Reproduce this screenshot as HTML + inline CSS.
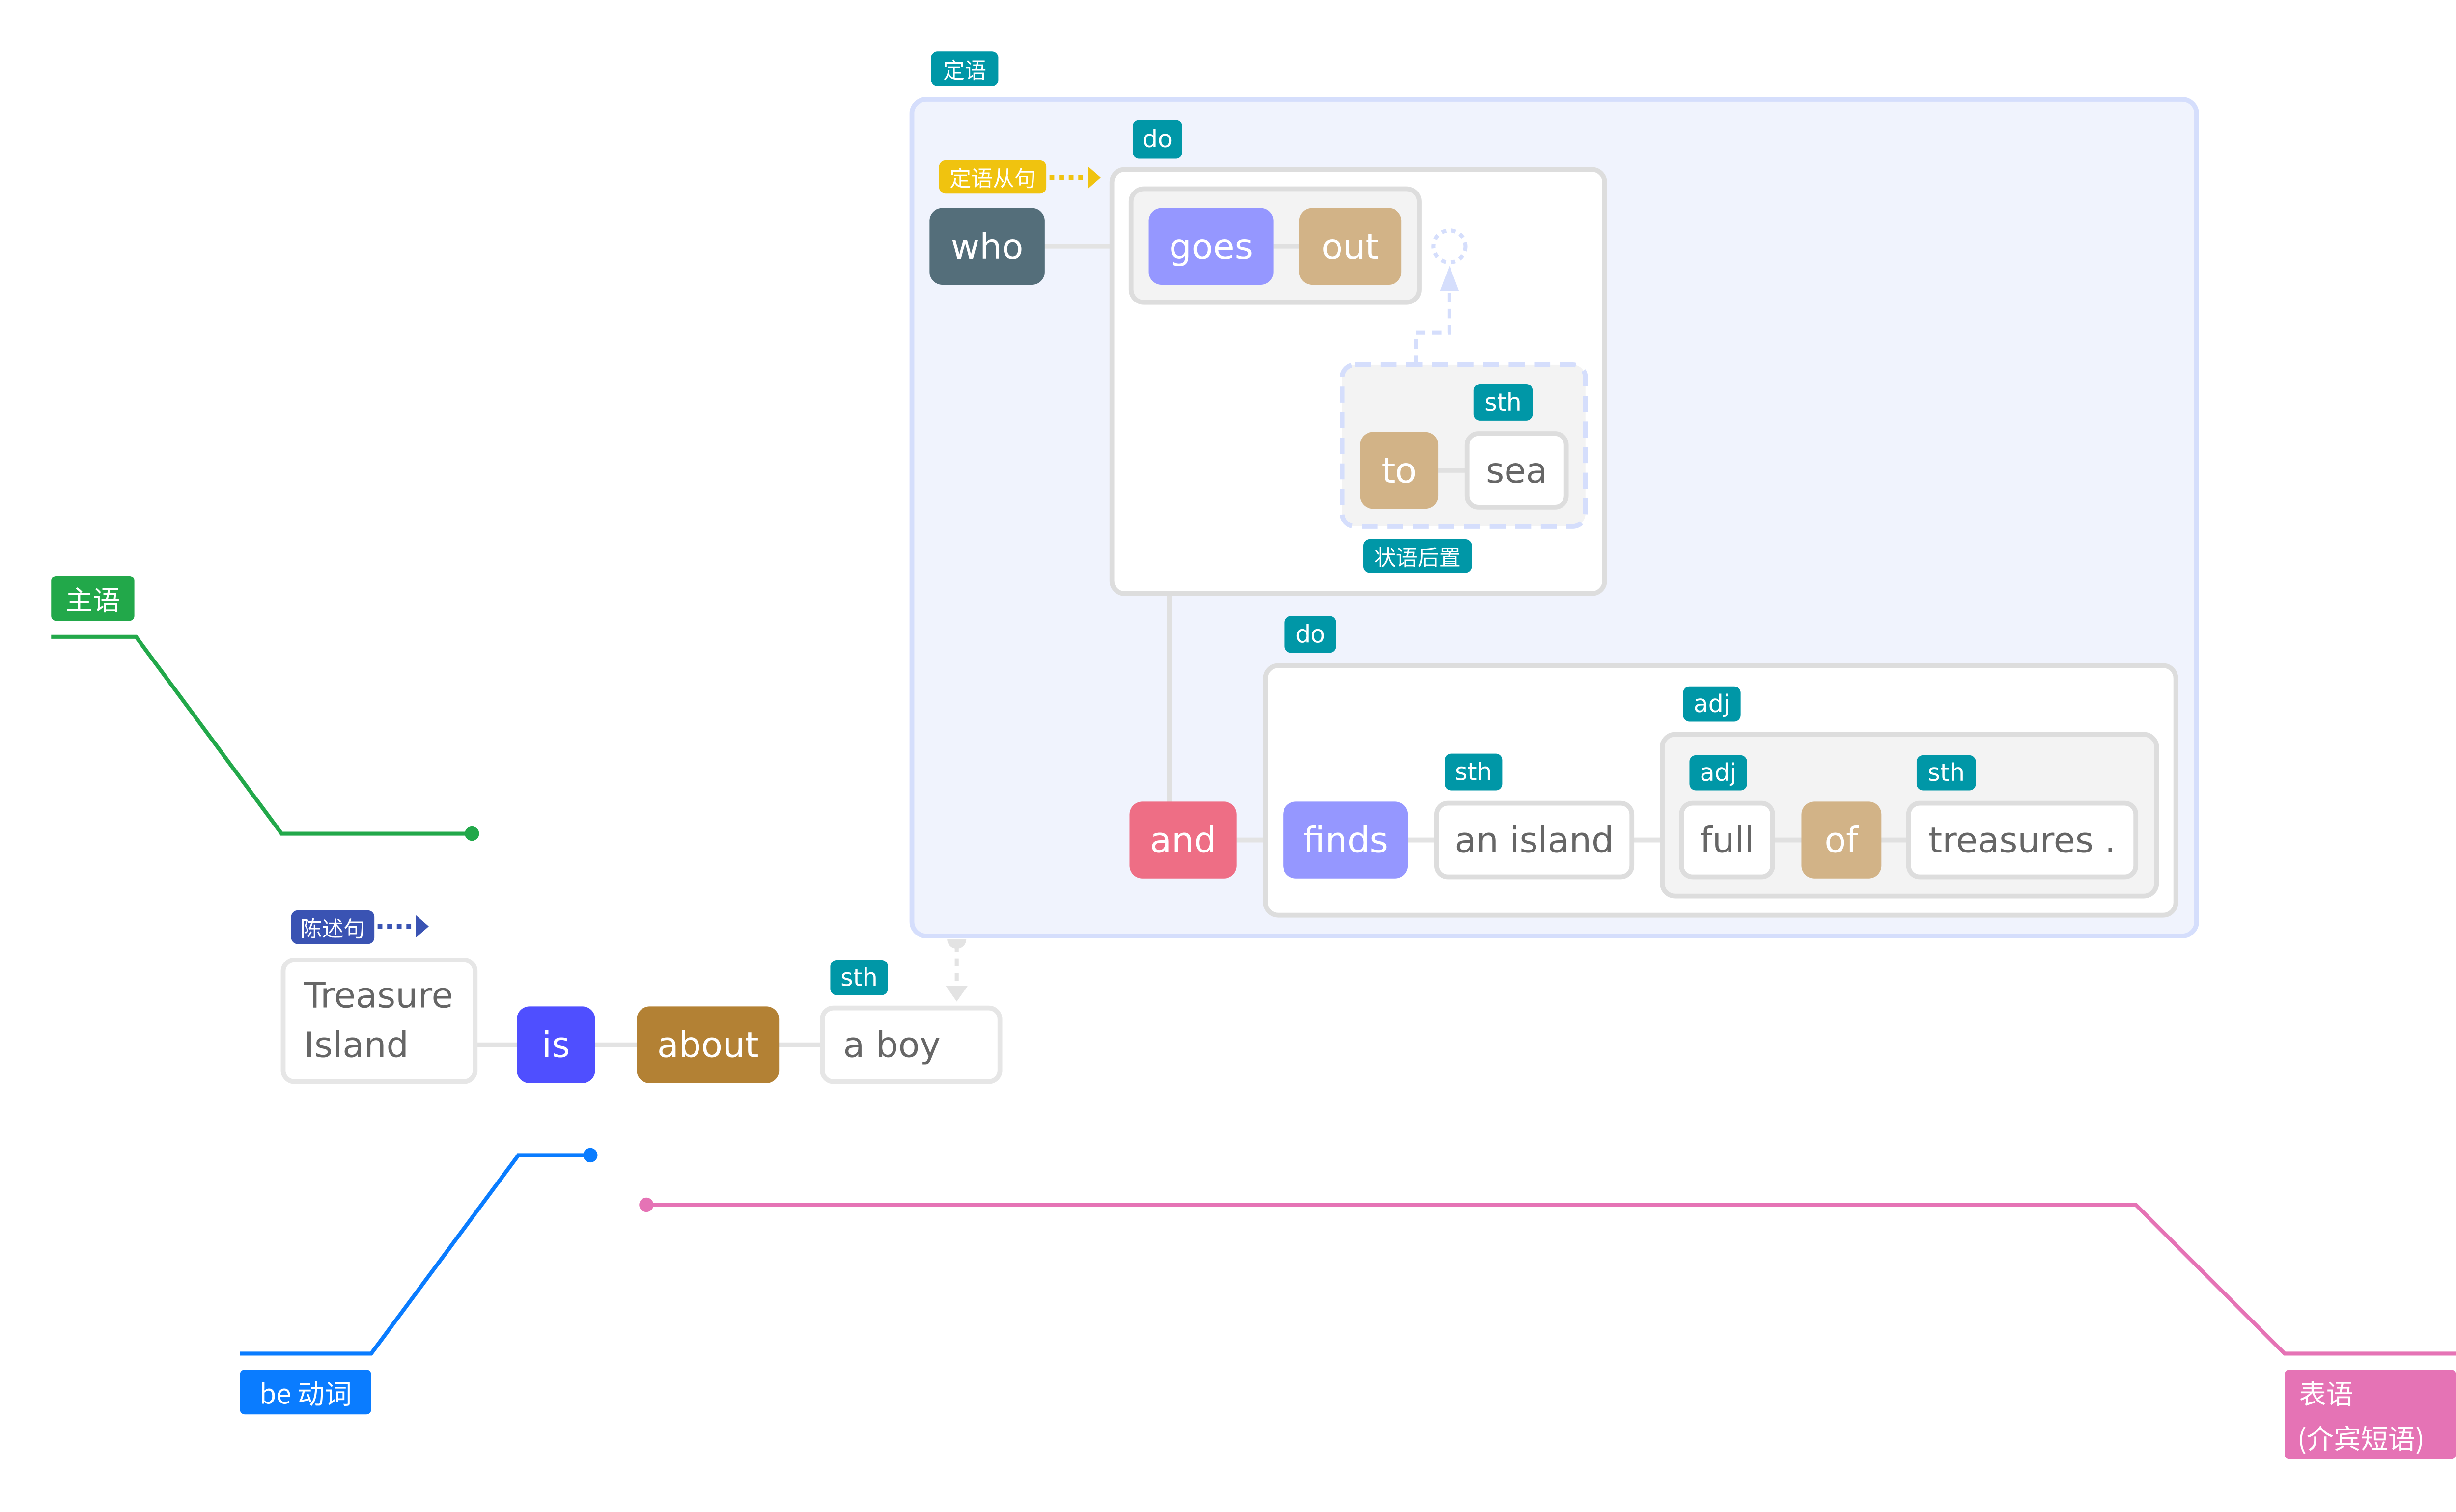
<!DOCTYPE html>
<html><head><meta charset="utf-8"><style>
html,body{margin:0;padding:0;background:#fff;}
svg{display:block;}
text{font-family:"DejaVu Sans","Liberation Sans","Noto Sans CJK SC",sans-serif;}
.w{font-size:22px;fill:#fff;text-anchor:middle;dominant-baseline:central;}
.g{font-size:22px;fill:#666;text-anchor:middle;dominant-baseline:central;}
.t{font-size:15px;fill:#fff;text-anchor:middle;dominant-baseline:central;font-family:"DejaVu Sans","Noto Sans CJK SC",sans-serif;}
.tc{font-size:13.5px;fill:#fff;text-anchor:middle;dominant-baseline:central;font-family:"Noto Sans CJK SC",sans-serif;}
</style></head><body>
<svg width="5081" height="3079" viewBox="0 0 1560 945" preserveAspectRatio="none" xmlns="http://www.w3.org/2000/svg">
<rect x="570" y="62" width="803" height="523" rx="9" fill="#f0f3fd" stroke="#d5defc" stroke-width="3"/>
<rect x="582" y="32" width="42" height="22" rx="4" fill="#0097a7"/><text class="tc" x="603" y="43">定语</text>

<line x1="653" y1="154" x2="695" y2="154" stroke="#e3e3e3" stroke-width="3"/>
<line x1="731" y1="371" x2="731" y2="525" stroke="#e0e0e0" stroke-width="3"/>
<line x1="773" y1="525" x2="802" y2="525" stroke="#e3e3e3" stroke-width="3"/>
<line x1="297" y1="653" x2="514" y2="653" stroke="#e3e3e3" stroke-width="3"/>

<rect x="695" y="106" width="308" height="265" rx="8" fill="#fff" stroke="#ddd" stroke-width="3"/>
<rect x="708" y="75" width="31" height="24" rx="4" fill="#0097a7"/><text class="t" x="723.5" y="87">do</text>
<rect x="587" y="100" width="67" height="21" rx="4" fill="#f0c30f"/><text class="tc" x="620.5" y="110.5">定语从句</text>
<line x1="656" y1="111" x2="680" y2="111" stroke="#f0c30f" stroke-width="3" stroke-dasharray="3,3"/>
<polygon points="680,104 688,111 680,118" fill="#f0c30f"/>
<rect x="581" y="130" width="72" height="48" rx="8" fill="#546e7a"/><text class="w" x="617" y="154">who</text>

<rect x="707" y="118" width="180" height="71" rx="8" fill="#f3f3f3" stroke="#ddd" stroke-width="3"/>
<line x1="796" y1="154" x2="812" y2="154" stroke="#e0e0e0" stroke-width="3"/>
<rect x="718" y="130" width="78" height="48" rx="8" fill="#9597ff"/><text class="w" x="757" y="154">goes</text>
<rect x="812" y="130" width="64" height="48" rx="8" fill="#d2b387"/><text class="w" x="844" y="154">out</text>

<circle cx="906" cy="154" r="10" fill="none" stroke="#d5defc" stroke-width="2.5" stroke-dasharray="3,3"/>
<polyline points="885,228 885,208 906,208 906,182" fill="none" stroke="#d5defc" stroke-width="2.5" stroke-dasharray="6,4"/>
<polygon points="906,166 900,182 912,182" fill="#d5defc"/>

<rect x="839" y="228" width="152" height="101" rx="8" fill="#f3f3f3" stroke="#d5defc" stroke-width="3" stroke-dasharray="10,6"/>
<rect x="921" y="240" width="37" height="23" rx="4" fill="#0097a7"/><text class="t" x="939.5" y="251.5">sth</text>
<line x1="899" y1="294" x2="917" y2="294" stroke="#e0e0e0" stroke-width="3"/>
<rect x="850" y="270" width="49" height="48" rx="8" fill="#d2b387"/><text class="w" x="874.5" y="294">to</text>
<rect x="917" y="271" width="62" height="46" rx="7" fill="#fff" stroke="#ddd" stroke-width="3"/><text class="g" x="948" y="294">sea</text>
<rect x="852" y="337" width="68" height="21" rx="4" fill="#0097a7"/><text class="tc" x="886" y="347.5">状语后置</text>

<rect x="803" y="385" width="32" height="23" rx="4" fill="#0097a7"/><text class="t" x="819" y="396.5">do</text>
<rect x="791" y="416" width="569" height="156" rx="8" fill="#fff" stroke="#ddd" stroke-width="3"/>
<rect x="706" y="501" width="67" height="48" rx="8" fill="#ee6e85"/><text class="w" x="739.5" y="525">and</text>
<line x1="880" y1="525" x2="1051" y2="525" stroke="#e3e3e3" stroke-width="3"/>
<rect x="802" y="501" width="78" height="48" rx="8" fill="#9597ff"/><text class="w" x="841" y="525">finds</text>
<rect x="903" y="471" width="36" height="23" rx="4" fill="#0097a7"/><text class="t" x="921" y="482.5">sth</text>
<rect x="898" y="502" width="122" height="46" rx="7" fill="#fff" stroke="#ddd" stroke-width="3"/><text class="g" x="959" y="525">an island</text>
<rect x="1052" y="429" width="36" height="22" rx="4" fill="#0097a7"/><text class="t" x="1070" y="440">adj</text>
<rect x="1039" y="459" width="309" height="101" rx="8" fill="#f3f3f3" stroke="#ddd" stroke-width="3"/>
<line x1="1108" y1="525" x2="1193" y2="525" stroke="#e0e0e0" stroke-width="3"/>
<rect x="1056" y="472" width="36" height="22" rx="4" fill="#0097a7"/><text class="t" x="1074" y="483">adj</text>
<rect x="1198" y="472" width="37" height="22" rx="4" fill="#0097a7"/><text class="t" x="1216.5" y="483">sth</text>
<rect x="1051" y="502" width="57" height="46" rx="7" fill="#fff" stroke="#ddd" stroke-width="3"/><text class="g" x="1079.5" y="525">full</text>
<rect x="1126" y="501" width="50" height="48" rx="8" fill="#d2b387"/><text class="w" x="1151" y="525">of</text>
<rect x="1193" y="502" width="142" height="46" rx="7" fill="#fff" stroke="#ddd" stroke-width="3"/><text class="g" x="1264" y="525">treasures .</text>

<path d="M592,587 a6,6 0 0 0 12,0 z" fill="#e3e3e3"/>
<line x1="598" y1="590" x2="598" y2="616" stroke="#e3e3e3" stroke-width="2.5" stroke-dasharray="5,4"/>
<polygon points="591,616 605,616 598,626" fill="#e3e3e3"/>

<rect x="182" y="569" width="52" height="21" rx="4" fill="#3a53b3"/><text class="tc" x="208" y="579.5">陈述句</text>
<line x1="236" y1="579" x2="260" y2="579" stroke="#3a53b3" stroke-width="3" stroke-dasharray="3,3"/>
<polygon points="260,572 268,579 260,586" fill="#3a53b3"/>
<rect x="177" y="600" width="120" height="76" rx="7" fill="#fff" stroke="#e6e6e6" stroke-width="3"/>
<text class="g" x="190" y="622" style="text-anchor:start">Treasure</text>
<text class="g" x="190" y="653" style="text-anchor:start">Island</text>
<rect x="323" y="629" width="49" height="48" rx="8" fill="#4f4fff"/><text class="w" x="347.5" y="653">is</text>
<rect x="398" y="629" width="89" height="48" rx="8" fill="#b38134"/><text class="w" x="442.5" y="653">about</text>
<rect x="519" y="600" width="36" height="22" rx="4" fill="#0097a7"/><text class="t" x="537" y="611">sth</text>
<rect x="514" y="630" width="111" height="46" rx="7" fill="#fff" stroke="#e6e6e6" stroke-width="3"/>
<text class="g" x="527" y="653" style="text-anchor:start">a boy</text>

<rect x="32" y="360" width="52" height="28" rx="3" fill="#22a84a"/><text class="tc" x="58" y="374" style="font-size:17px">主语</text>
<polyline points="32,398 85,398 176,521 295,521" fill="none" stroke="#22a84a" stroke-width="2.5"/>
<circle cx="295" cy="521" r="4.5" fill="#22a84a"/>

<polyline points="369,722 324,722 232,846 150,846" fill="none" stroke="#0a7cff" stroke-width="2.5"/>
<circle cx="369" cy="722" r="4.5" fill="#0a7cff"/>
<rect x="150" y="856" width="82" height="28" rx="3" fill="#0a7cff"/><text class="tc" x="191" y="870" style="font-size:17px">be 动词</text>

<polyline points="404,753 1335,753 1428,846 1535,846" fill="none" stroke="#e573b5" stroke-width="2.5"/>
<circle cx="404" cy="753" r="4.5" fill="#e573b5"/>
<rect x="1428" y="856" width="107" height="56" rx="3" fill="#e573b5"/>
<text class="tc" x="1437" y="870" style="font-size:17px;text-anchor:start">表语</text>
<text class="tc" x="1436" y="898" style="font-size:17px;text-anchor:start">(介宾短语)</text>
</svg>
</body></html>
